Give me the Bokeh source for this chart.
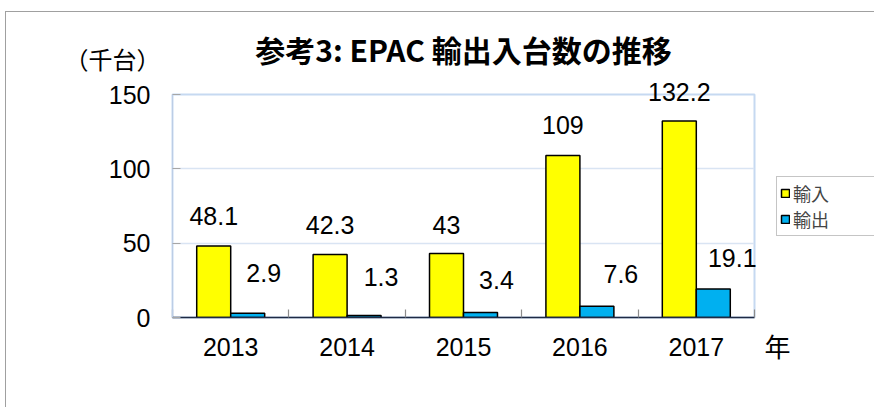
from bokeh.plotting import figure
from bokeh.models import (ColumnDataSource, FactorRange, Range1d, Label,
                          Legend, LegendItem, LinearAxis, CategoricalAxis, FixedTicker,
                          Grid, InlineStyleSheet)
from bokeh.transform import dodge
from bokeh.embed import file_html
from bokeh.resources import INLINE

# ---- data ----
years = ["2013", "2014", "2015", "2016", "2017"]
imports = [48.1, 42.3, 43, 109, 132.2]
exports = [2.9, 1.3, 3.4, 7.6, 19.1]
import_labels = ["48.1", "42.3", "43", "109", "132.2"]
export_labels = ["2.9", "1.3", "3.4", "7.6", "19.1"]
y_ticks = [0, 50, 100, 150]
series_names = ["輸入", "輸出"]
title_text = "参考3: EPAC 輸出入台数の推移"
y_unit = "（千台）"
x_unit = "年"

# ---- styles (label offsets in pixels) ----
imp_dy = [30, 30, 29, 30, 29]
exp_dx = [16, 17, 16, 24, 19]
exp_dy = [40, 39, 32, 32, 31]
BAR_W = 0.292
NUM_FONT = "Liberation Sans"
JP_FONT = "Noto Sans CJK JP"

src = ColumnDataSource(dict(year=years, imports=imports, exports=exports))

p = figure(width=874, height=407, frame_width=582, frame_height=223,
           x_range=FactorRange(*years, range_padding=0),
           y_range=Range1d(0, 150), output_backend="svg", toolbar_location=None,
           x_axis_location=None, y_axis_location=None,
           min_border_left=172, min_border_right=120, min_border_top=94, min_border_bottom=90)
for g in p.grid:
    g.visible = False
p.outline_line_color = "#c6d9f1"
p.outline_line_width = 2
p.background_fill_color = "white"
p.border_fill_color = "white"

# y axis
yaxis = LinearAxis(ticker=FixedTicker(ticks=y_ticks), major_tick_in=8, major_tick_out=0,
                   major_tick_line_color="#a6a6a6", minor_tick_line_color=None,
                   axis_line_color="#bccde6", major_label_standoff=22,
                   major_label_text_font=NUM_FONT, major_label_text_font_size="25px",
                   major_label_text_color="black")
p.add_layout(yaxis, "left")
p.add_layout(Grid(dimension=1, ticker=yaxis.ticker, grid_line_color="#d9e4f3",
                  grid_line_width=1.5))

# x axis: boundary ticks, then category labels
boundaries = [0, 1, 2, 3, 4, 5]
tick_axis = LinearAxis(ticker=FixedTicker(ticks=boundaries), major_tick_in=8,
                       major_tick_out=0, major_tick_line_color="#8c8c8c",
                       major_tick_line_width=1.2,
                       minor_tick_line_color=None, axis_line_color="#1f2a44",
                       axis_line_width=1.5, major_label_standoff=0,
                       major_label_overrides={b: "" for b in boundaries})
p.add_layout(tick_axis, "below")
cat_axis = CategoricalAxis(axis_line_color=None, major_tick_line_color=None,
                           major_label_standoff=14, major_label_text_font=NUM_FONT,
                           major_label_text_font_size="25px", major_label_text_color="black")
p.add_layout(cat_axis, "below")

r1 = p.vbar(x=dodge("year", -BAR_W / 2, range=p.x_range), top="imports", width=BAR_W,
            source=src, fill_color="#FFFF00", line_color="black", line_width=1.5)
r2 = p.vbar(x=dodge("year", BAR_W / 2, range=p.x_range), top="exports", width=BAR_W,
            source=src, fill_color="#00B0F0", line_color="black", line_width=1.5)

legend = Legend(items=[LegendItem(label=series_names[0], renderers=[r1]),
                       LegendItem(label=series_names[1], renderers=[r2])],
                location="left", margin=22, padding=3, spacing=0,
                label_height=20, label_width=78, glyph_width=10, glyph_height=10,
                label_standoff=3, label_text_font=JP_FONT, label_text_font_size="18px",
                border_line_color="#8c8c8c", border_line_width=1,
                background_fill_color="white", background_fill_alpha=1)
p.add_layout(legend, "right")

# data labels: placed in a side panel so they are not clipped at the frame edge
for i, year in enumerate(years):
    center = years.index(year) + 0.5  # synthetic category coordinate
    p.add_layout(Label(x=center - BAR_W / 2, y=imports[i], y_offset=imp_dy[i],
                       text=import_labels[i], text_align="center", text_baseline="middle",
                       text_font=NUM_FONT, text_font_size="25px", text_color="black"), "right")
    p.add_layout(Label(x=center + BAR_W / 2, y=exports[i], x_offset=exp_dx[i],
                       y_offset=exp_dy[i], text=export_labels[i], text_align="center",
                       text_baseline="middle", text_font=NUM_FONT, text_font_size="25px",
                       text_color="black"), "right")

# texts outside the frame: placed in side panels (not clipped), data units
p.add_layout(Label(x=2.5, y=150, y_offset=46, text=title_text,
                   text_align="center", text_baseline="middle", text_font=JP_FONT,
                   text_font_size="30px", text_font_style="bold", text_color="black"), "above")
p.add_layout(Label(x=0, y=150, x_offset=-60, y_offset=36, text=y_unit,
                   text_align="center", text_baseline="middle", text_font=JP_FONT,
                   text_font_size="24px", text_color="black"), "left")
p.add_layout(Label(x=5, y=0, x_offset=23, y_offset=-28, text=x_unit,
                   text_align="center", text_baseline="middle", text_font=JP_FONT,
                   text_font_size="26px", text_color="black"), "below")

p.stylesheets = [InlineStyleSheet(css=""":host { position: relative; }
:host::after { content: ''; position: absolute; left: 5px; top: 11px; right: 0px; bottom: 0px;
 border-top: 1px solid #a0a0a0; border-left: 1px solid #a0a0a0; pointer-events: none; }""")]

open("out.html", "w").write(file_html(p, INLINE))
